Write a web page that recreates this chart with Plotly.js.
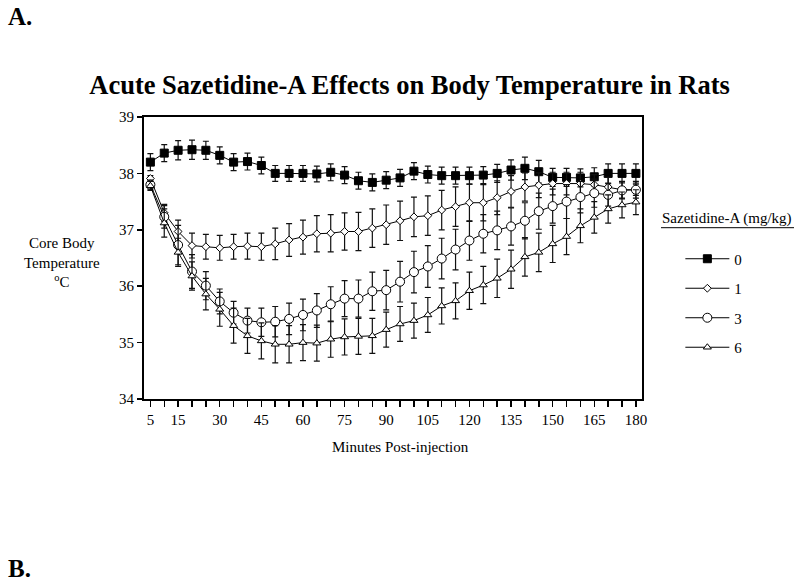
<!DOCTYPE html>
<html>
<head>
<meta charset="utf-8">
<script src="https://cdn.plot.ly/plotly-3.0.1.min.js"></script>
<style>
html,body{margin:0;padding:0;background:#fff;}
#chart{width:800px;height:583px;}
</style>
</head>
<body>
<div id="chart"></div>
<script>
// Minutes post-injection
const minutes = [5,10,15,20,25,30,35,40,45,50,55,60,65,70,75,80,85,90,95,100,105,110,115,120,125,130,135,140,145,150,155,160,165,170,175,180];
const tickLabels = ["5","","15","","","30","","","45","","","60","","","75","","","90","","","105","","","120","","","135","","","150","","","165","","","180"];
const doseNames = ["0","1","3","6"];

// Core body temperature (°C) per dose (mg/kg)
const temp0 = [38.20,38.36,38.41,38.42,38.41,38.32,38.20,38.21,38.14,38.00,38.00,38.00,37.99,38.02,37.97,37.87,37.84,37.88,37.92,38.04,37.98,37.96,37.96,37.96,37.97,38.00,38.06,38.09,38.03,37.93,37.93,37.92,37.94,38.00,38.00,38.00];
const temp1 = [37.91,37.30,36.97,36.72,36.70,36.68,36.70,36.71,36.70,36.75,36.82,36.87,36.93,36.94,36.97,36.97,37.03,37.09,37.16,37.23,37.25,37.35,37.41,37.48,37.48,37.57,37.68,37.76,37.79,37.82,37.82,37.82,37.80,37.76,37.71,37.71];
const temp3 = [37.80,37.23,36.73,36.26,36.01,35.73,35.53,35.39,35.36,35.37,35.42,35.49,35.57,35.68,35.78,35.78,35.91,35.93,36.08,36.25,36.35,36.49,36.65,36.81,36.93,36.99,37.06,37.16,37.33,37.42,37.50,37.58,37.65,37.62,37.70,37.71];
const temp6 = [37.78,37.12,36.60,36.18,35.86,35.59,35.30,35.12,35.03,34.97,34.97,35.00,34.99,35.06,35.10,35.11,35.12,35.23,35.33,35.39,35.49,35.65,35.74,35.92,36.02,36.14,36.30,36.52,36.60,36.75,36.88,37.07,37.22,37.37,37.44,37.49];

// SEM
const sem0 = [0.15,0.15,0.17,0.17,0.16,0.15,0.15,0.15,0.15,0.14,0.14,0.14,0.14,0.15,0.15,0.15,0.15,0.15,0.15,0.15,0.15,0.15,0.15,0.15,0.15,0.16,0.18,0.2,0.2,0.16,0.16,0.16,0.16,0.17,0.17,0.17];
const sem1 = [0.05,0.15,0.2,0.22,0.22,0.22,0.22,0.23,0.24,0.28,0.29,0.3,0.32,0.33,0.33,0.34,0.34,0.35,0.35,0.35,0.35,0.35,0.35,0.33,0.32,0.3,0.28,0.25,0.22,0.2,0.2,0.2,0.18,0.17,0.15,0.15];
const sem3 = [0.08,0.2,0.35,0.3,0.25,0.22,0.2,0.22,0.25,0.27,0.28,0.28,0.3,0.31,0.32,0.33,0.34,0.35,0.36,0.37,0.37,0.36,0.36,0.35,0.34,0.34,0.33,0.32,0.32,0.3,0.3,0.28,0.25,0.2,0.15,0.1];
const sem6 = [0.08,0.25,0.25,0.25,0.28,0.3,0.31,0.31,0.32,0.33,0.33,0.32,0.32,0.32,0.32,0.32,0.31,0.31,0.31,0.31,0.31,0.32,0.32,0.33,0.33,0.34,0.34,0.34,0.34,0.33,0.32,0.3,0.28,0.25,0.23,0.22];

const FONT = "Liberation Serif, Times New Roman, serif";
const temps = [temp0,temp1,temp3,temp6];
const sems = [sem0,sem1,sem3,sem6];
const markers = [
  {symbol:"square", size:8, color:"#000", line:{color:"#000", width:1}},
  {symbol:"diamond", size:6, color:"#fff", line:{color:"#000", width:1}},
  {symbol:"circle", size:9, color:"#fff", line:{color:"#000", width:1}},
  {symbol:"triangle-up", size:7, color:"#fff", line:{color:"#000", width:1}}
];

const traces = temps.map((t,i) => ({
  type:"scatter", mode:"lines+markers",
  x:minutes, y:t, name:doseNames[i], legendgroup:"g"+i,
  line:{color:"#000", width:1},
  marker:markers[i],
  error_y:{type:"data", array:sems[i], visible:true, color:"#111", thickness:1.2, width:3}
}));

const layout = {
  width:800, height:583,
  paper_bgcolor:"#fff", plot_bgcolor:"#fff",
  margin:{l:144, r:158, t:117, b:184},
  font:{family:FONT, color:"#000", size:15},
  title:{text:"<b>Acute Sazetidine-A Effects on Body Temperature in Rats</b>",
         font:{family:FONT, size:26.5, color:"#000"}, x:0.512, xanchor:"center",
         y:1-85/583, yref:"container", yanchor:"middle"},
  xaxis:{range:[2.7,182.2], tickvals:minutes, ticktext:tickLabels, ticks:"outside",
         ticklen:6, tickwidth:1.5, tickcolor:"#000", showline:true, linecolor:"#000",
         linewidth:2, mirror:true, showgrid:false, zeroline:false,
         tickfont:{family:FONT, size:15}},
  yaxis:{range:[34,39], dtick:1, ticks:"outside", ticklen:5, tickwidth:1.5,
         tickcolor:"#000", showline:true, linecolor:"#000", linewidth:2, mirror:true,
         showgrid:false, zeroline:false, tickfont:{family:FONT, size:15}},
  showlegend:true,
  legend:{x:1.077, xanchor:"left", y:0.555, yanchor:"top", tracegroupgap:7,
          font:{family:FONT, size:15}, bgcolor:"rgba(0,0,0,0)", itemwidth:44},
  annotations:[
    {text:"<b>A.</b>", xref:"paper", yref:"paper", x:-138/498, y:1+(117-17)/281.5,
     xanchor:"left", yanchor:"middle", showarrow:false, font:{family:FONT, size:25}},
    {text:"<b>B.</b>", xref:"paper", yref:"paper", x:-138/498, y:-(568-399)/281.5,
     xanchor:"left", yanchor:"middle", showarrow:false, font:{family:FONT, size:25}},
    {text:"Core Body<br>Temperature<br><sup>o</sup>C", xref:"paper", yref:"paper",
     x:-(144-62)/498, y:(399-263)/281.5, xanchor:"center", yanchor:"middle",
     showarrow:false, align:"center", font:{family:FONT, size:15}},
    {text:"Minutes Post-injection", xref:"paper", yref:"paper", x:(400-144)/498,
     y:-(447-399)/281.5, xanchor:"center", yanchor:"middle", showarrow:false,
     font:{family:FONT, size:15}},
    {text:"Sazetidine-A (mg/kg)", xref:"paper", yref:"paper", x:(727-144)/498,
     y:(399-219)/281.5, xanchor:"center", yanchor:"middle", showarrow:false,
     font:{family:FONT, size:15}}
  ],
  shapes:[
    {type:"line", xref:"paper", yref:"paper", x0:(661-144)/498, x1:(794-144)/498,
     y0:(399-228)/281.5, y1:(399-228)/281.5, line:{color:"#000", width:1}}
  ]
};

Plotly.newPlot("chart", traces, layout, {staticPlot:true});
</script>
</body>
</html>
